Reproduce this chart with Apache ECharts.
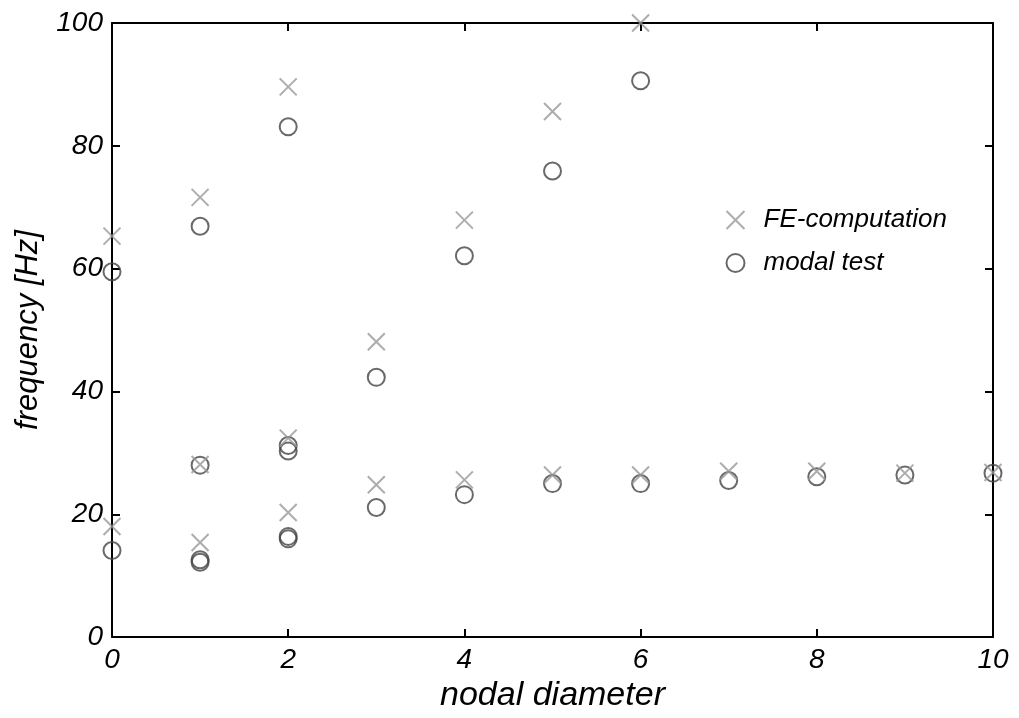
<!DOCTYPE html>
<html><head><meta charset="utf-8">
<script src="https://cdn.jsdelivr.net/npm/echarts@6/dist/echarts.min.js"></script>
<style>html,body{margin:0;padding:0;background:#fff}#c{width:1019px;height:718px}</style>
</head><body><div id="c"></div>
<script>
// FE-computation (crosses)
const feX = [0, 0, 1, 1, 1, 2, 2, 2, 3, 3, 4, 4, 5, 5, 6, 6, 7, 8, 9, 10];
const feY = [65.3, 18.0, 71.6, 28.1, 15.4, 89.6, 32.4, 20.3, 48.1, 24.8, 67.9, 25.6, 85.6, 26.4, 100.0, 26.4, 27.0, 27.0, 26.7, 26.8];
// modal test (circles)
const testX = [0, 0, 1, 1, 1, 1, 2, 2, 2, 2, 2, 3, 3, 4, 4, 5, 5, 6, 6, 7, 8, 9, 10];
const testY = [59.5, 14.1, 66.9, 28.0, 12.6, 12.2, 83.1, 31.2, 30.3, 16.4, 16.0, 42.3, 21.1, 62.1, 23.2, 75.9, 25.0, 90.6, 25.0, 25.5, 26.1, 26.4, 26.7];
const xTicks = [0, 2, 4, 6, 8, 10];
const yTicks = [0, 20, 40, 60, 80, 100];

const F = 'Liberation Sans, Arial, sans-serif';
const chart = echarts.init(document.getElementById('c'));
const lbl = {fontFamily: F, fontStyle: 'italic', fontSize: 28, color: '#000'};
const axLine = {show: true, onZero: false, lineStyle: {color: '#000', width: 2}};
const tick = {show: true, inside: true, length: 8, lineStyle: {color: '#000', width: 2}};
const crossPath = 'path://M0,0L10,10M10,0L0,10';
chart.setOption({
  animation: false,
  backgroundColor: '#fff',
  grid: {left: 112, right: 26, top: 23, bottom: 78},
  legend: {
    left: 719, top: 202, orient: 'vertical', itemGap: 17, itemWidth: 46, itemHeight: 18,
    textStyle: {fontFamily: F, fontStyle: 'italic', fontSize: 26, color: '#000'},
    data: ['FE-computation', 'modal test']
  },
  xAxis: [{
    type: 'value', min: 0, max: 10, interval: 2,
    name: 'nodal diameter', nameLocation: 'middle', nameGap: 37,
    nameTextStyle: {fontFamily: F, fontStyle: 'italic', fontSize: 34, color: '#000'},
    axisLine: axLine, axisTick: tick, splitLine: {show: false},
    axisLabel: Object.assign({margin: 9, formatter: v => xTicks.includes(v) ? String(v) : ''}, lbl)
  }, {
    type: 'value', position: 'top', min: 0, max: 10, interval: 2,
    axisLine: axLine, axisTick: tick, splitLine: {show: false}, axisLabel: {show: false}
  }],
  yAxis: [{
    type: 'value', min: 0, max: 100, interval: 20,
    name: 'frequency [Hz]', nameLocation: 'middle', nameGap: 68,
    nameTextStyle: {fontFamily: F, fontStyle: 'italic', fontSize: 31, color: '#000'},
    axisLine: axLine, axisTick: tick, splitLine: {show: false},
    axisLabel: Object.assign({margin: 9, formatter: v => yTicks.includes(v) ? String(v) : ''}, lbl)
  }, {
    type: 'value', position: 'right', min: 0, max: 100, interval: 20,
    axisLine: axLine, axisTick: tick, splitLine: {show: false}, axisLabel: {show: false}
  }],
  series: [{
    name: 'FE-computation', type: 'scatter', symbol: crossPath, symbolSize: 17,
    itemStyle: {color: 'none', borderColor: '#999', borderWidth: 2},
    data: feX.map((x, i) => [x, feY[i]]), z: 3
  }, {
    name: 'modal test', type: 'scatter', symbol: 'circle', symbolSize: 17,
    itemStyle: {color: 'none', borderColor: '#444', borderWidth: 2},
    data: testX.map((x, i) => [x, testY[i]]), z: 2
  }]
});
</script></body></html>
